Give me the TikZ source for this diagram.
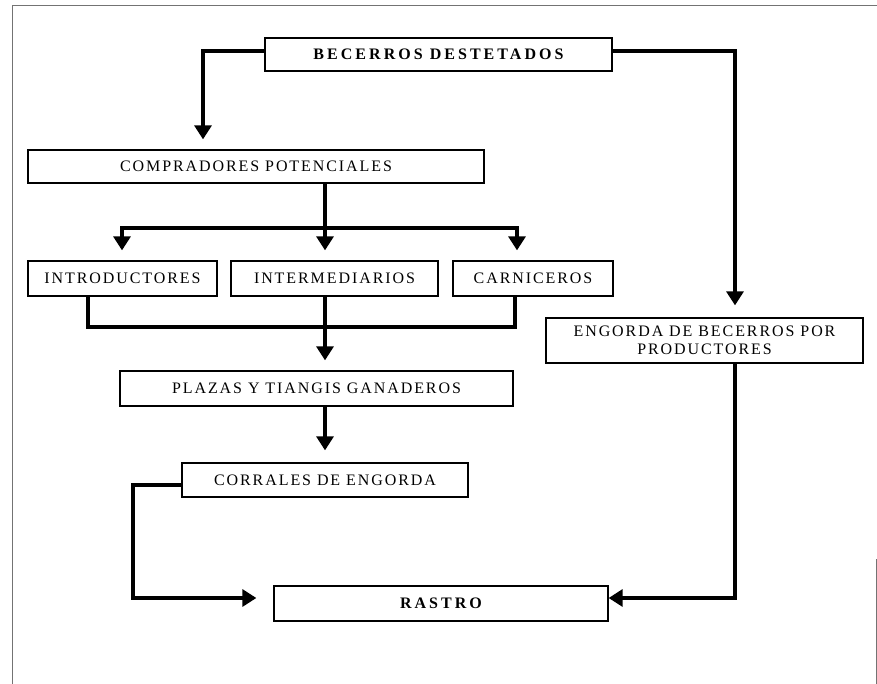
\documentclass[tikz,border=0pt]{standalone}
\usepackage{fontspec}
\setmainfont{Liberation Serif}[LetterSpace=12]
\newfontfamily\widebold{Liberation Serif}[LetterSpace=19]
\usetikzlibrary{arrows.meta}
\begin{document}
\begin{tikzpicture}[x=1pt,y=-1pt,
  box/.style={draw=black,line width=1.3pt,rectangle,inner sep=0pt,align=center,font=\fontsize{16}{18}\selectfont},
  boldbox/.style={box,font=\fontsize{16}{18}\widebold\bfseries},
  conn/.style={line width=3.2pt,-{Triangle[length=14pt,width=17pt]}},
  link/.style={line width=3.2pt},
  frame/.style={draw=black!55,line width=0.8pt}]
\path[use as bounding box,fill=white] (0,0) rectangle (877,684);
\draw[frame] (12,684) -- (12,5) -- (877,5);
\draw[frame] (876,559) -- (876,684);

\node[boldbox,minimum width=347pt,minimum height=33pt] (B) at (438.5,54.5) {BECERROS DESTETADOS};
\node[box,minimum width=456pt,minimum height=33pt] (C) at (256,166.5) {COMPRADORES POTENCIALES};
\node[box,minimum width=189pt,minimum height=35pt] (I1) at (122.5,278.5) {INTRODUCTORES};
\node[box,minimum width=207pt,minimum height=35pt] (I2) at (334.5,278.5) {INTERMEDIARIOS};
\node[box,minimum width=160pt,minimum height=35pt] (I3) at (533,278.5) {CARNICEROS};
\node[box,minimum width=317pt,minimum height=45pt] (E) at (704.5,340.5) {ENGORDA DE BECERROS POR\\PRODUCTORES};
\node[box,minimum width=393pt,minimum height=35pt] (P) at (316.5,388.5) {PLAZAS Y TIANGIS GANADEROS};
\node[box,minimum width=286pt,minimum height=34pt] (Co) at (325,480) {CORRALES DE ENGORDA};
\node[boldbox,minimum width=334pt,minimum height=35pt] (R) at (441,603.5) {RASTRO};

\coordinate (barL) at (122,228);
\coordinate (barR) at (517,228);
\coordinate (lbL) at (88,327);
\coordinate (lbR) at (515,327);
\coordinate (cl) at (133,598);

\draw[conn,shorten >=10pt] ([yshift=3.5pt]B.west) -| ([xshift=-53pt]C.north);
\draw[conn,shorten >=12pt] ([yshift=3.5pt]B.east) -| ([xshift=30.5pt]E.north);
\draw[conn,shorten >=10pt] ([xshift=69pt]C.south) -- ([xshift=-9.5pt]I2.north);
\draw[conn,shorten >=10pt] (barR) -- (barL) -- (barL |- I1.north);
\draw[conn,shorten >=10pt] (barL) -- (barR) -- (barR |- I3.north);
\draw[link] (lbL |- I1.south) -- (lbL) -- (lbR) -- (lbR |- I3.south);
\draw[conn,shorten >=10pt] ([xshift=-9.5pt]I2.south) -- ([xshift=8.5pt]P.north);
\draw[conn,shorten >=12pt] ([xshift=8.5pt]P.south) -- (Co.north);
\draw[conn,shorten >=17pt] ([yshift=-5pt]Co.west) -| (cl) -- ([yshift=5.5pt]R.west);
\draw[conn] ([xshift=30.5pt]E.south) |- ([yshift=5.5pt]R.east);
\end{tikzpicture}
\end{document}
